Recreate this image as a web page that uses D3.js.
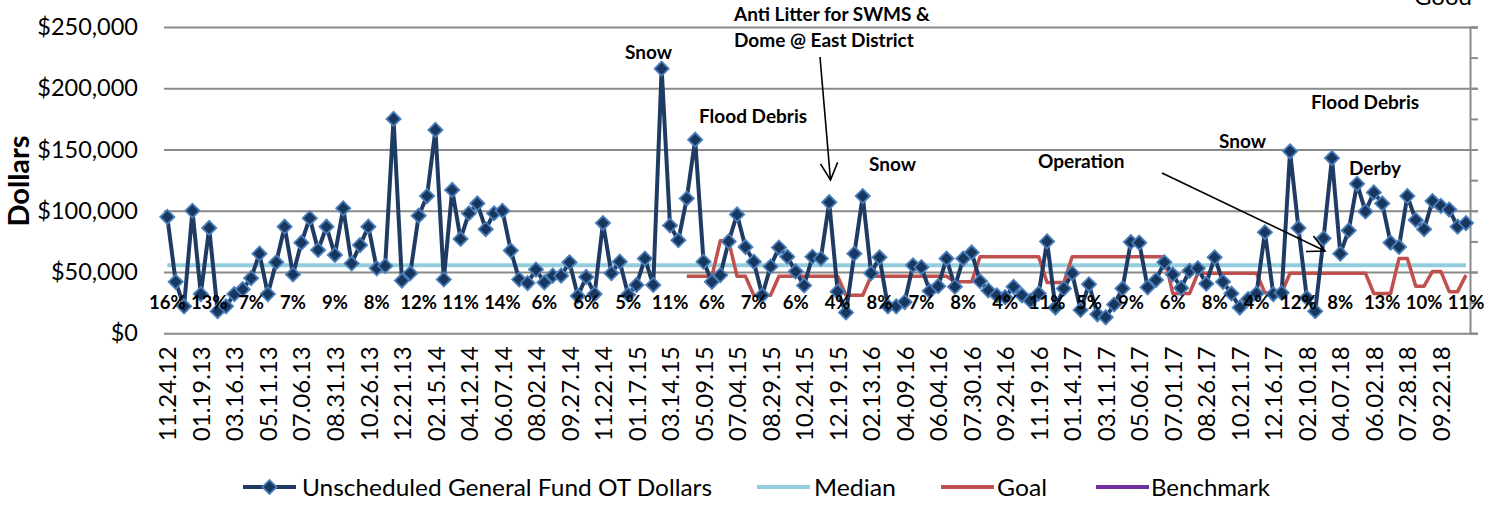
<!DOCTYPE html>
<html>
<head>
<meta charset="utf-8">
<script src="https://cdn.jsdelivr.net/npm/d3@7"></script>
<style>
body { margin: 0; background: #fff; }
text { font-family: Lato, "Open Sans", sans-serif; }
</style>
</head>
<body>
<svg id="chart" width="1494" height="508"></svg>
<script>
// category tick labels, one every 4th biweekly period
var tickLabels = ['11.24.12','01.19.13','03.16.13','05.11.13','07.06.13','08.31.13','10.26.13','12.21.13',
	'02.15.14','04.12.14','06.07.14','08.02.14','09.27.14','11.22.14','01.17.15','03.14.15','05.09.15',
	'07.04.15','08.29.15','10.24.15','12.19.15','02.13.16','04.09.16','06.04.16','07.30.16','09.24.16',
	'11.19.16','01.14.17','03.11.17','05.06.17','07.01.17','08.26.17','10.21.17','12.16.17','02.10.18',
	'04.07.18','06.02.18','07.28.18','09.22.18'];

// unscheduled general fund OT dollars per pay period
var otDollars = [
	95000, 42000, 22000, 100000, 32000, 86000, 18000, 22000, 32000, 36000,
	45000, 65000, 32000, 58000, 87000, 48000, 74000, 94000, 68000, 87000,
	64000, 102000, 57000, 72000, 87000, 53000, 55000, 175000, 43000, 49000,
	96000, 112000, 166000, 44000, 117000, 77000, 98000, 106000, 85000, 98000,
	100000, 67500, 44000, 41000, 52000, 41500, 47000, 47000, 58000, 30500,
	46000, 32000, 90000, 49000, 58500, 31500, 39500, 61000, 39500, 216000,
	88000, 76000, 110000, 158000, 58500, 42000, 47500, 75000, 97000, 70500,
	58500, 31000, 54500, 70000, 62500, 50500, 39000, 62500, 61000, 107000,
	34000, 17000, 65000, 112000, 49000, 62000, 22000, 22000, 25500, 55500,
	54000, 34500, 38500, 61000, 38000, 61000, 66000, 42500, 35000, 31000,
	29500, 38000, 31000, 26500, 32500, 75000, 21000, 36500, 49000, 19000,
	40000, 15500, 13000, 23500, 36500, 74500, 74000, 37500, 43500, 58000,
	48000, 37000, 51000, 53000, 40500, 62000, 42000, 32500, 21000, 28000,
	32500, 82500, 32000, 33000, 148500, 86000, 29000, 18000, 77500, 143000,
	65000, 84000, 122000, 99500, 115000, 106000, 74000, 70500, 112000, 92500,
	85000, 108000, 104000, 101000, 87000, 90000];

var medianValue = 55500;

// goal starts at period 62
var goalStart = 62;
var goalValues = [
	46500, 46500, 46500, 46500, 75500, 75500, 46500, 46500, 31000, 31000,
	31000, 46500, 46500, 46500, 46500, 46500, 46500, 46500, 46500, 31000,
	31000, 31000, 46500, 46500, 46500, 46500, 46500, 46500, 46500, 46500,
	46500, 46500, 42000, 42000, 42000, 62500, 62500, 62500, 62500, 62500,
	62500, 62500, 62500, 41500, 41500, 41500, 62500, 62500, 62500, 62500,
	62500, 62500, 62500, 62500, 62500, 62500, 62500, 62500, 32500, 32500,
	32500, 49000, 49000, 49000, 49000, 49000, 49000, 49000, 49000, 33000,
	33000, 33000, 49000, 49000, 49000, 49000, 49000, 49000, 49000, 49000,
	49000, 49000, 32500, 32500, 32500, 61000, 61000, 38500, 38500, 50500,
	50500, 34000, 34000, 47500];

// percentage labels, one every 5th period
var pctLabels = ['16%','13%','7%','7%','9%','8%','12%','11%','14%','6%','6%','5%','11%','6%','7%','6%',
	'4%','8%','7%','8%','4%','11%','5%','9%','6%','8%','4%','12%','8%','13%','10%','11%'];

var seriesNames = ['Unscheduled General Fund OT Dollars', 'Median', 'Goal', 'Benchmark'];
var seriesColors = ['#1f3b63', '#93cddd', '#c0504d', '#7030a0'];

var svg = d3.select('#chart');
svg.append('rect').attr('width', 1494).attr('height', 508).attr('fill', '#fff');

var x = d3.scaleLinear().domain([0, otDollars.length - 1]).range([167.3, 1466]);
var y = d3.scaleLinear().domain([0, 250000]).range([333.3, 27]);
var left = 164, right = 1470;

// gridlines + left tick labels
var yAxis = svg.append('g').attr('transform', 'translate(' + left + ',0)')
	.call(d3.axisLeft(y).tickValues(d3.range(0, 250001, 50000)).tickFormat(d3.format('$,'))
		.tickSize(-(right - left + 8)).tickPadding(26));
yAxis.select('.domain').remove();
yAxis.selectAll('line').attr('stroke', '#8a8a8a').attr('stroke-width', 2);
yAxis.selectAll('text').attr('font-size', 23.5).attr('fill', '#000').attr('font-family', 'Lato');

// right axis (secondary, no labels)
var rAxis = svg.append('g').attr('transform', 'translate(' + right + ',0)')
	.call(d3.axisRight(y).tickValues(d3.range(0, 250001, 25000)).tickFormat('').tickSizeOuter(0).tickSize(8));
rAxis.selectAll('line').attr('stroke', '#8a8a8a').attr('stroke-width', 2);
rAxis.select('.domain').attr('stroke', '#8a8a8a').attr('stroke-width', 2);

// bottom category labels
var xAxis = svg.append('g').attr('transform', 'translate(0,' + y(0) + ')')
	.call(d3.axisBottom(x).tickValues(d3.range(0, otDollars.length, 4))
		.tickFormat(function(d){ return tickLabels[d / 4]; }).tickSize(0));
xAxis.select('.domain').remove();
xAxis.selectAll('text')
	.attr('transform', 'rotate(-90)')
	.attr('text-anchor', 'end')
	.attr('x', -13).attr('y', 0).attr('dy', '0.36em')
	.attr('font-size', 24).attr('fill', '#000').attr('font-family', 'Lato');

// y title
svg.append('text').attr('transform', 'translate(29,181) rotate(-90)')
	.attr('text-anchor', 'middle').attr('font-size', 29).attr('font-weight', 'bold')
	.text('Dollars');

// median
svg.append('path')
	.datum(otDollars.map(function(d, i){ return i; }))
	.attr('d', d3.line().x(function(i){ return x(i); }).y(function(){ return y(medianValue); }))
	.attr('fill', 'none').attr('stroke', seriesColors[1]).attr('stroke-width', 4);

// goal
svg.append('path')
	.datum(goalValues)
	.attr('d', d3.line().x(function(d, i){ return x(goalStart + i); }).y(function(d){ return y(d); }))
	.attr('fill', 'none').attr('stroke', seriesColors[2]).attr('stroke-width', 3.5)
	.attr('stroke-linejoin', 'round');

// OT dollars line
svg.append('path')
	.datum(otDollars)
	.attr('d', d3.line().x(function(d, i){ return x(i); }).y(function(d){ return y(d); }))
	.attr('fill', 'none').attr('stroke', seriesColors[0]).attr('stroke-width', 4)
	.attr('stroke-linejoin', 'round');

var diamond = d3.symbol().type(d3.symbolSquare).size(100);
svg.append('g').selectAll('path')
	.data(otDollars)
	.enter().append('path')
	.attr('d', diamond)
	.attr('transform', function(d, i){ return 'translate(' + x(i) + ',' + y(d) + ') rotate(45)'; })
	.attr('fill', '#17375e').attr('stroke', '#4a7ebb').attr('stroke-width', 1.8);

// percentage labels
svg.append('g').selectAll('text')
	.data(pctLabels)
	.enter().append('text')
	.attr('x', function(d, k){ return x(k * 5); })
	.attr('y', y(25500))
	.attr('dy', '0.36em')
	.attr('text-anchor', 'middle')
	.attr('font-size', 18.5).attr('font-weight', 'bold')
	.text(function(d){ return d; });

// annotations
var notes = [
	{t: 'Snow', x: 625, y: 59},
	{t: 'Anti Litter for SWMS &', x: 734, y: 20.5},
	{t: 'Dome @ East District', x: 734, y: 46.5},
	{t: 'Flood Debris', x: 699, y: 122.5},
	{t: 'Snow', x: 869, y: 171},
	{t: 'Operation', x: 1038, y: 168},
	{t: 'Snow', x: 1219, y: 148},
	{t: 'Flood Debris', x: 1311, y: 109},
	{t: 'Derby', x: 1349, y: 175}
];
svg.append('g').selectAll('text')
	.data(notes)
	.enter().append('text')
	.attr('x', function(d){ return d.x; })
	.attr('y', function(d){ return d.y; })
	.attr('font-size', 19).attr('font-weight', 'bold')
	.text(function(d){ return d.t; });

// partly clipped label at the top edge, as in the source
svg.append('text').attr('x', 1472).attr('y', 5).attr('text-anchor', 'end')
	.attr('font-size', 24).text('Good');

// arrows
function arrow(x1, y1, x2, y2){
	var a = Math.atan2(y2 - y1, x2 - x1), len = 19, spread = 0.47;
	svg.append('line').attr('x1', x1).attr('y1', y1).attr('x2', x2).attr('y2', y2)
		.attr('stroke', '#000').attr('stroke-width', 1.6);
	var p = d3.path();
	p.moveTo(x2 - len * Math.cos(a - spread), y2 - len * Math.sin(a - spread));
	p.lineTo(x2, y2);
	p.lineTo(x2 - len * Math.cos(a + spread), y2 - len * Math.sin(a + spread));
	svg.append('path').attr('d', p.toString()).attr('fill', 'none')
		.attr('stroke', '#000').attr('stroke-width', 1.6);
}
arrow(820, 57, 830.5, 180);
arrow(1162, 173, 1325, 251);

// legend
var legendY = 487;
var legendItems = [
	{x: 243, tx: 302, w: 410},
	{x: 757, tx: 814, w: 82},
	{x: 941, tx: 997, w: 50},
	{x: 1096, tx: 1151, w: 119}
];
var lg = svg.append('g').selectAll('g')
	.data(legendItems)
	.enter().append('g');
lg.append('line')
	.attr('x1', function(d){ return d.x; }).attr('x2', function(d){ return d.x + 53; })
	.attr('y1', legendY).attr('y2', legendY)
	.attr('stroke', function(d, i){ return seriesColors[i]; })
	.attr('stroke-width', 4);
lg.append('text')
	.attr('x', function(d){ return d.tx; }).attr('y', legendY).attr('dy', '0.36em')
	.attr('font-size', 24)
	.attr('textLength', function(d){ return d.w; })
	.attr('lengthAdjust', 'spacingAndGlyphs')
	.text(function(d, i){ return seriesNames[i]; });
svg.append('path').attr('d', diamond)
	.attr('transform', 'translate(' + (legendItems[0].x + 26.5) + ',' + legendY + ') rotate(45)')
	.attr('fill', '#17375e').attr('stroke', '#4a7ebb').attr('stroke-width', 1.8);
</script>
</body>
</html>
